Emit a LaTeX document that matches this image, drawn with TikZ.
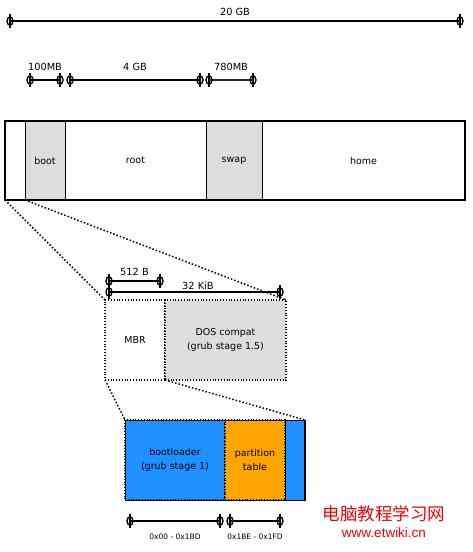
\documentclass[tikz,border=0pt]{standalone}
\usepackage{fontspec}
\setmainfont{DejaVu Sans}
\newfontfamily\cjkfont{Noto Sans CJK SC}
\newfontfamily\urlfont{Liberation Sans}
\usetikzlibrary{positioning}
\definecolor{partgray}{RGB}{221,221,221}
\definecolor{loaderblue}{RGB}{30,144,255}
\definecolor{tableorange}{RGB}{255,165,0}
\definecolor{markred}{RGB}{240,0,0}

\tikzset{
    marker/.pic={
        \draw[line width=1.5pt] (0,-7) -- (0,7);
        \draw[line width=1.4pt] (0,0) ellipse (3 and 4.2);
    }
}

\begin{document}
\begin{tikzpicture}[x=1pt, y=-1pt,
    part/.style={draw, line width=0.8pt, inner sep=0pt, outer sep=0pt,
                 minimum height=#1, font=\fontsize{9.5}{11}\selectfont, align=center},
    part/.default=79pt,
    zoomline/.style={dotted, line width=1.5pt},
    sizeline/.style={line width=1.5pt},
    size/.style={font=\fontsize{9.8}{11}\selectfont, inner sep=1pt},
    offset/.style={font=\fontsize{7.5}{8}\selectfont, inner sep=1pt}
]
    \useasboundingbox (0,0) rectangle (472,552);

    % whole disk
    \path (10,21) coordinate (d0) pic{marker} (460,21) coordinate (d1) pic{marker};
    \draw[sizeline] (d0) -- (d1) node[midway, above=4pt, size] {20 GB};

    % partition sizes
    \path (30,80) coordinate (p0) pic{marker}
          (60,80) coordinate (p1) pic{marker}
          (70,80) coordinate (p2) pic{marker}
          (200,80) coordinate (p3) pic{marker}
          (209,80) coordinate (p4) pic{marker}
          (253,80) coordinate (p5) pic{marker};
    \draw[sizeline] (p0) -- (p1) node[midway, above=8pt, size] {100MB};
    \draw[sizeline] (p2) -- (p3) node[midway, above=8pt, size] {4 GB};
    \draw[line width=1.2pt, black!85] (p4) -- (p5) node[midway, above=8pt, size, black] {780MB};

    % disk layout
    \node[part, minimum width=20pt, anchor=north west] (lead) at (5,121) {};
    \node[part, minimum width=40pt, fill=partgray, right=0pt of lead] (boot) {boot};
    \node[part, minimum width=141pt, right=0pt of boot] (root) {root};
    \node[part, minimum width=56pt, fill=partgray, right=0pt of root] (swap) {swap};
    \node[part, minimum width=203pt, right=0pt of swap] (home) {home};
    \draw[line width=1.5pt] (lead.north west) rectangle (home.south east);

    % first 32 KiB
    \node[part=80pt, zoomline, line width=1.2pt, minimum width=60pt, anchor=north west] (mbr) at (105,300) {MBR};
    \node[part=80pt, zoomline, line width=1.2pt, minimum width=121pt, fill=partgray, right=0pt of mbr]
        (doscompat) {DOS compat\\[3pt](grub stage 1.5)};
    \draw[zoomline] (lead.south west) -- (mbr.north west);
    \draw[zoomline] (boot.south west) -- (doscompat.north east);

    \path (109,281) coordinate (s0) pic{marker} (160,281) coordinate (s1) pic{marker}
          (109,292) coordinate (k0) pic{marker} (280,292) coordinate (k1) pic{marker};
    \draw[sizeline] (s0) -- (s1) node[midway, above=4pt, size] {512 B};
    \draw[sizeline] (k0) -- (k1) node[pos=0.52, above=1pt, size] {32 KiB};

    % MBR layout
    \node[part=80pt, zoomline, line width=1.2pt, minimum width=100pt, fill=loaderblue, anchor=north west]
        (loader) at (125,420) {bootloader\\[3pt](grub stage 1)};
    \node[part=80pt, zoomline, line width=1.2pt, minimum width=60pt, fill=tableorange, right=0pt of loader]
        (ptable) {partition\\[3pt]table};
    \node[part=80pt, minimum width=20pt, fill=loaderblue, right=0pt of ptable] (signature) {};
    \draw[line width=0.8pt] (loader.north west) rectangle (signature.south east);
    \draw[line width=1.8pt] (signature.north east) -- (signature.south east);
    \draw[zoomline] (mbr.south west) -- (loader.north west);
    \draw[zoomline] (mbr.south east) -- (signature.north east);

    \path (130,521) coordinate (o0) pic{marker} (220,521) coordinate (o1) pic{marker}
          (230,521) coordinate (o2) pic{marker} (280,521) coordinate (o3) pic{marker};
    \draw[sizeline] (o0) -- (o1) node[midway, below=11pt, offset] {0x00 - 0x1BD};
    \draw[sizeline] (o2) -- (o3) node[midway, below=11pt, offset] {0x1BE - 0x1FD};

    % watermark
    \node[markred, font=\cjkfont\fontsize{17.5}{19}\selectfont, inner sep=0pt] (site) at (384,514) {电脑教程学习网};
    \node[markred, font=\urlfont\fontsize{13.5}{15}\selectfont, inner sep=0pt, below=5pt of site] (url) {www.etwiki.cn};
\end{tikzpicture}
\end{document}
